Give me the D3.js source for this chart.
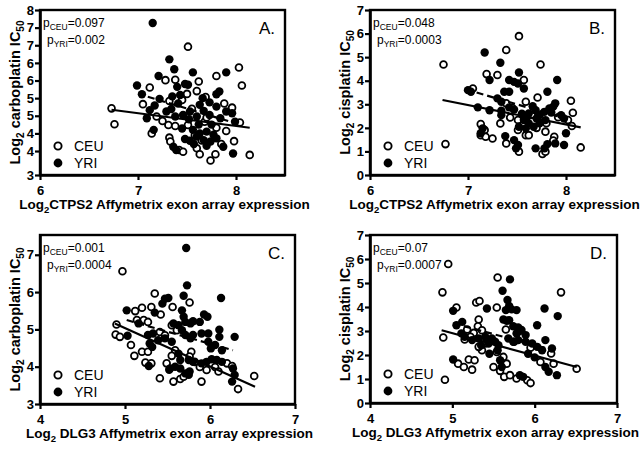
<!DOCTYPE html>
<html><head><meta charset="utf-8">
<script src="https://cdn.jsdelivr.net/npm/d3@7/dist/d3.min.js"></script>
<style>
html,body{margin:0;padding:0;background:#fff;}
svg{display:block;font-family:"Liberation Sans",Arial,sans-serif;}
</style></head>
<body>
<svg id="chart" width="644" height="451"></svg>
<script>
// ---------- DATA ----------
// Panel A: carboplatin vs CTPS2
const aCEU = [[7.51,6.96],[8.03,6.37],[7.80,6.13],[7.28,6.01],[7.38,6.02],[7.62,5.97],[8.06,5.86],[7.12,5.80],[7.50,5.62],[7.60,5.70],[7.69,5.53],[7.32,5.42],[7.05,5.33],[7.96,5.23],[6.73,5.21],[7.19,4.98],[8.04,4.81],[6.76,4.76],[7.31,4.74],[7.38,4.71],[7.51,4.74],[7.68,4.83],[7.80,4.66],[7.90,4.57],[7.14,4.50],[7.32,4.38],[7.33,4.27],[7.98,4.28],[7.42,4.03],[7.46,3.98],[7.60,4.08],[7.63,3.91],[7.79,3.91],[7.74,3.73],[8.14,3.89],[7.55,5.20],[7.70,4.95],[7.85,4.20],[7.58,4.45],[7.45,5.45],[7.25,4.85],[7.65,4.30],[7.88,5.35]];
const aYRI = [[7.15,7.63],[7.32,6.60],[7.37,6.32],[7.56,6.23],[7.90,6.23],[7.21,6.13],[6.99,5.86],[7.40,5.82],[7.48,5.90],[7.51,5.88],[7.04,5.61],[7.43,5.59],[7.80,5.61],[7.83,5.69],[7.22,5.48],[7.17,5.29],[7.41,5.35],[7.63,5.31],[7.73,5.38],[7.80,5.26],[7.12,5.16],[7.29,5.12],[7.34,5.19],[7.53,5.12],[7.67,5.14],[7.90,5.12],[7.96,5.07],[7.09,4.93],[7.38,4.98],[7.46,5.02],[7.60,4.98],[7.73,5.02],[7.84,4.93],[7.99,4.83],[7.45,4.64],[7.56,4.60],[7.63,4.50],[7.70,4.55],[7.77,4.46],[7.16,4.60],[7.48,4.34],[7.53,4.29],[7.60,4.41],[7.67,4.31],[7.74,4.27],[7.80,4.36],[7.87,4.12],[7.36,4.12],[7.39,4.03],[7.97,3.93],[7.57,4.20],[7.70,4.15],[7.62,4.75],[7.52,4.90],[7.66,5.50],[7.35,5.55],[7.75,4.75]];
const aFitCEU = [[6.73,5.17],[8.14,4.66]];
const aFitYRI = [[7.10,5.54],[7.92,4.85]];

// Panel B: cisplatin vs CTPS2
const bCEU = [[7.52,5.89],[7.39,5.30],[6.75,4.69],[7.74,4.69],[7.19,4.28],[7.30,4.24],[7.57,4.03],[7.05,3.67],[7.39,3.04],[7.71,3.29],[7.59,3.11],[8.05,3.15],[8.07,2.64],[8.02,2.33],[7.43,2.44],[7.51,2.33],[7.33,2.19],[7.13,2.16],[7.17,1.91],[7.51,1.91],[7.59,1.69],[7.62,1.69],[7.13,1.69],[7.25,1.55],[7.18,1.62],[7.79,1.84],[7.88,1.62],[7.87,1.46],[8.06,2.08],[7.39,1.34],[7.52,0.99],[7.76,0.89],[7.79,0.99],[8.15,1.17],[6.77,1.31],[7.65,2.55],[7.80,2.20],[7.45,2.85],[7.70,2.00],[7.92,2.45]];
const bYRI = [[7.17,5.20],[7.33,4.76],[7.22,4.03],[7.52,4.35],[7.42,4.03],[7.47,3.95],[7.51,3.88],[7.91,4.03],[7.00,3.60],[7.03,3.53],[7.37,3.53],[7.42,3.53],[7.57,3.67],[7.30,3.25],[7.34,3.11],[7.81,3.53],[7.10,2.87],[7.22,2.75],[7.34,2.73],[7.42,2.87],[7.47,2.78],[7.89,3.04],[7.87,2.90],[7.34,2.54],[7.15,1.98],[7.13,1.77],[7.38,1.65],[8.00,1.77],[7.98,1.27],[7.89,1.34],[7.47,1.48],[7.51,1.27],[7.49,1.13],[7.69,1.13],[7.81,1.31],[7.78,1.13],[7.66,2.92],[7.69,2.75],[7.62,2.61],[7.73,2.54],[7.78,2.68],[7.83,2.82],[7.95,2.54],[7.98,2.40],[7.57,2.33],[7.62,2.19],[7.67,2.05],[7.73,2.19],[7.59,1.98],[7.79,2.33],[7.52,2.05],[7.60,2.45],[7.70,2.40],[7.55,2.60],[7.85,2.65]];
const bFitCEU = [[6.74,3.18],[8.15,2.02]];
const bFitYRI = [[6.98,3.63],[7.95,2.45]];

// Panel C: carboplatin vs DLG3
const cCEU = [[4.97,6.56],[5.35,5.96],[5.76,5.72],[5.56,5.60],[5.31,5.60],[5.20,5.58],[5.12,5.49],[5.42,5.40],[5.14,5.25],[5.22,5.25],[5.27,5.20],[4.90,5.13],[4.89,4.86],[4.94,4.80],[5.07,4.58],[5.55,5.11],[5.61,4.98],[5.41,4.93],[5.47,4.84],[5.20,4.40],[5.27,4.40],[5.11,4.29],[5.24,4.11],[5.31,4.09],[5.59,4.44],[5.55,4.29],[5.49,4.09],[5.78,4.40],[5.76,4.27],[5.82,4.13],[5.88,3.99],[5.96,3.91],[6.06,3.99],[6.10,3.87],[6.20,4.09],[6.26,4.02],[5.41,3.69],[5.57,3.60],[5.65,3.67],[5.69,3.73],[5.90,3.60],[6.33,3.40],[6.52,3.75]];
const cYRI = [[5.72,7.18],[5.73,6.18],[5.69,5.90],[6.13,5.84],[5.47,5.82],[5.51,5.84],[5.44,5.69],[5.02,5.51],[5.35,5.45],[5.67,5.51],[5.69,5.34],[5.93,5.40],[5.97,5.34],[5.16,5.16],[5.03,4.83],[5.57,5.16],[5.63,5.11],[5.71,5.20],[5.77,5.16],[5.80,5.22],[5.88,5.20],[5.27,4.85],[5.33,4.89],[5.39,4.71],[5.47,4.76],[5.55,4.67],[5.67,4.98],[5.71,4.85],[5.77,4.76],[5.80,4.85],[5.90,4.89],[5.98,4.89],[6.11,4.99],[6.11,4.80],[6.29,4.80],[5.98,4.67],[6.06,4.58],[6.14,4.44],[6.01,4.49],[5.29,4.62],[5.32,4.53],[5.63,4.35],[5.65,4.18],[5.59,4.00],[5.53,3.95],[5.75,4.18],[5.80,4.13],[5.90,4.09],[5.96,4.13],[6.02,4.20],[6.08,4.18],[6.14,4.13],[5.76,3.87],[5.75,3.78],[5.65,3.95],[5.71,3.82],[6.26,3.60],[6.29,3.78],[6.27,3.95],[5.28,4.02],[5.52,3.92]];
const cFitCEU = [[4.88,5.16],[6.53,3.46]];
const cFitYRI = [[5.02,5.25],[6.27,4.44]];

// Panel D: cisplatin vs DLG3
const dCEU = [[4.95,5.79],[5.55,5.23],[4.88,4.61],[6.32,4.61],[5.29,4.19],[5.33,4.25],[5.05,3.98],[5.54,3.98],[5.32,3.48],[5.31,3.20],[5.65,3.06],[5.18,3.06],[5.26,2.92],[5.36,3.03],[4.89,2.73],[5.15,2.65],[5.22,2.76],[5.40,2.48],[5.36,2.20],[5.32,2.34],[5.07,1.64],[5.14,1.50],[5.20,1.81],[5.27,1.78],[5.24,1.39],[5.54,2.13],[5.62,1.92],[5.66,1.64],[5.50,1.50],[5.58,1.34],[5.63,1.09],[5.70,1.16],[5.78,1.02],[5.91,0.95],[5.95,0.83],[4.91,0.97],[6.07,1.71],[6.23,1.64],[6.51,1.43],[6.20,2.06],[5.75,2.55],[5.95,2.30],[5.85,2.75]];
const dYRI = [[5.70,5.15],[5.61,4.68],[5.67,4.29],[5.69,4.04],[5.01,3.84],[5.42,3.94],[5.65,3.87],[5.72,3.90],[5.78,3.87],[6.12,3.94],[6.28,3.62],[5.62,3.48],[5.66,3.43],[5.69,3.45],[5.12,3.38],[6.03,3.24],[5.05,3.24],[5.74,3.20],[5.80,3.15],[5.84,3.04],[5.78,2.90],[5.89,2.83],[5.11,2.90],[5.15,2.76],[5.24,2.62],[5.32,2.69],[5.40,2.76],[5.48,2.69],[5.44,2.48],[5.52,2.55],[5.56,2.41],[5.68,2.69],[5.74,2.55],[5.80,2.62],[5.89,2.55],[5.97,2.48],[6.03,2.34],[6.09,2.20],[6.13,2.62],[5.01,1.81],[5.60,1.50],[5.58,1.78],[5.82,1.16],[5.86,1.09],[6.13,1.50],[6.17,1.30],[6.27,1.16],[6.21,2.27],[5.45,2.05],[5.55,2.20],[5.35,2.40],[5.92,2.05],[6.00,1.90]];
const dFitCEU = [[4.87,3.03],[6.51,1.50]];
const dFitYRI = [[5.01,3.32],[6.23,2.20]];

// Ticks and labels
const xTicksCTPS2 = [6,7,8];
const xTicksDLG3 = [4,5,6,7];
const yTicksA = [3.32,4,4.5,5,5.5,6,6.5,7,7.5,8];
const yTickLabelsA = ["3","4","4","5","5","6","6","7","7","8"];
const yTicksC = [3,4,5,6,7];
const yTicksCis = [0,1,2,3,4,5,6,7];
const panelLetters = ["A.","B.","C.","D."];
const pCEU = ["0.097","0.048","0.001","0.07"];
const pYRI = ["0.002","0.0003","0.0004","0.0007"];
const legendLabels = ["CEU","YRI"];

// ---------- LAYOUT ----------
const FONT = '"Liberation Sans",Arial,sans-serif';
const svg = d3.select("#chart");

const panels = [
  {ceu:aCEU, yri:aYRI, fitC:aFitCEU, fitY:aFitYRI, x0:40, x1:285, y0:10, y1:175,
   xd:[6,8.5], yd:[3.32,8], xt:xTicksCTPS2, yt:yTicksA, ytl:yTickLabelsA,
   ytitle:"carboplatin", xtitle:"CTPS2", xsp:false, idx:0},
  {ceu:bCEU, yri:bYRI, fitC:bFitCEU, fitY:bFitYRI, x0:370, x1:615, y0:10, y1:175,
   xd:[6,8.5], yd:[0,7], xt:xTicksCTPS2, yt:yTicksCis, ytl:null,
   ytitle:"cisplatin", xtitle:"CTPS2", xsp:false, idx:1},
  {ceu:cCEU, yri:cYRI, fitC:cFitCEU, fitY:cFitYRI, x0:40, x1:295, y0:235, y1:404,
   xd:[4,7], yd:[3,7.53], xt:xTicksDLG3, yt:yTicksC, ytl:null,
   ytitle:"carboplatin", xtitle:"DLG3", xsp:true, idx:2},
  {ceu:dCEU, yri:dYRI, fitC:dFitCEU, fitY:dFitYRI, x0:370, x1:617, y0:235, y1:403,
   xd:[4,7], yd:[0,7], xt:xTicksDLG3, yt:yTicksCis, ytl:null,
   ytitle:"cisplatin", xtitle:"DLG3", xsp:true, idx:3}
];

panels.forEach(p => {
  const g = svg.append("g");
  const x = d3.scaleLinear().domain(p.xd).range([p.x0, p.x1]);
  const y = d3.scaleLinear().domain(p.yd).range([p.y1, p.y0]);

  // frame
  g.append("rect").attr("x", p.x0).attr("y", p.y0)
    .attr("width", p.x1 - p.x0).attr("height", p.y1 - p.y0)
    .attr("fill", "none").attr("stroke", "#000").attr("stroke-width", 2.4);

  // axes
  const xa = g.append("g").attr("transform", `translate(0,${p.y1})`)
    .call(d3.axisBottom(x).tickValues(p.xt).tickFormat(d3.format("d")).tickSize(5).tickSizeOuter(0));
  const ya = g.append("g").attr("transform", `translate(${p.x0},0)`)
    .call(d3.axisLeft(y).tickValues(p.yt)
      .tickFormat((d,i) => p.ytl ? p.ytl[i] : d3.format("d")(d)).tickSize(5).tickSizeOuter(0));
  [xa, ya].forEach(a => {
    a.select(".domain").attr("stroke-width", 2.6);
    a.selectAll(".tick line").attr("stroke-width", 2.2);
    a.selectAll(".tick text").attr("font-family", FONT).attr("font-size", 13)
      .attr("font-weight", "bold").attr("fill", "#000");
  });
  xa.selectAll(".tick text").attr("dy", "0.95em");
  ya.selectAll(".tick text").attr("dx", "0.15em");

  // points
  g.append("g").selectAll("circle").data(p.ceu).join("circle")
    .attr("cx", d => x(d[0])).attr("cy", d => y(d[1])).attr("r", 3.4)
    .attr("fill", "#fff").attr("stroke", "#000").attr("stroke-width", 1.8);
  g.append("g").selectAll("circle").data(p.yri).join("circle")
    .attr("cx", d => x(d[0])).attr("cy", d => y(d[1])).attr("r", 4.2)
    .attr("fill", "#000");

  // regression lines
  const line = d3.line().x(d => x(d[0])).y(d => y(d[1]));
  g.append("path").attr("d", line(p.fitC)).attr("stroke", "#000")
    .attr("stroke-width", 2.2).attr("fill", "none");
  g.append("path").attr("d", line(p.fitY)).attr("stroke", "#000")
    .attr("stroke-width", 2.2).attr("fill", "none").attr("stroke-dasharray", "7,4");

  // p-values
  const t1 = g.append("text").attr("x", p.x0 + 3).attr("y", p.y0 + 17)
    .attr("font-family", FONT).attr("font-size", 12).attr("fill", "#000");
  t1.append("tspan").text("p");
  t1.append("tspan").attr("font-size", 8.5).attr("dy", 3).text("CEU");
  t1.append("tspan").attr("dy", -3).text("=" + pCEU[p.idx]);
  const t2 = g.append("text").attr("x", p.x0 + 7).attr("y", p.y0 + 34)
    .attr("font-family", FONT).attr("font-size", 12).attr("fill", "#000");
  t2.append("tspan").text("p");
  t2.append("tspan").attr("font-size", 8.5).attr("dy", 3).text("YRI");
  t2.append("tspan").attr("dy", -3).text("=" + pYRI[p.idx]);

  // panel letter
  g.append("text").attr("x", p.x1 - 10).attr("y", p.y0 + 24).attr("text-anchor", "end")
    .attr("font-family", FONT).attr("font-size", 17).attr("fill", "#000")
    .text(panelLetters[p.idx]);

  // legend
  const lx = p.x0 + 18, ly = p.y1 - 29;
  g.append("circle").attr("cx", lx).attr("cy", ly).attr("r", 3.6)
    .attr("fill", "#fff").attr("stroke", "#000").attr("stroke-width", 1.9);
  g.append("circle").attr("cx", lx).attr("cy", ly + 17).attr("r", 4.4).attr("fill", "#000");
  g.append("text").attr("x", lx + 16).attr("y", ly + 5).attr("font-family", FONT)
    .attr("font-size", 14).attr("fill", "#000").text(legendLabels[0]);
  g.append("text").attr("x", lx + 16).attr("y", ly + 22).attr("font-family", FONT)
    .attr("font-size", 14).attr("fill", "#000").text(legendLabels[1]);

  // y title
  const cy = (p.y0 + p.y1) / 2;
  const yt = g.append("text")
    .attr("transform", `translate(${p.x0 - 20},${cy}) rotate(-90)`)
    .attr("text-anchor", "middle").attr("font-family", FONT)
    .attr("font-size", 14.5).attr("font-weight", "bold").attr("fill", "#000");
  yt.append("tspan").text("Log");
  yt.append("tspan").attr("font-size", 10).attr("dy", 4).text("2");
  yt.append("tspan").attr("dy", -4).text(" " + p.ytitle + " IC");
  yt.append("tspan").attr("font-size", 10).attr("dy", 4).text("50");

  // x title
  const xt = g.append("text")
    .attr("x", (p.x0 + p.x1) / 2 + 2).attr("y", p.y1 + 34)
    .attr("text-anchor", "middle").attr("font-family", FONT)
    .attr("font-size", 13.5).attr("font-weight", "bold").attr("fill", "#000");
  xt.append("tspan").text("Log");
  xt.append("tspan").attr("font-size", 9.5).attr("dy", 4).text("2");
  xt.append("tspan").attr("dy", -4).text((p.xsp ? " " : "") + p.xtitle + " Affymetrix exon array expression");
});
</script>
</body></html>
